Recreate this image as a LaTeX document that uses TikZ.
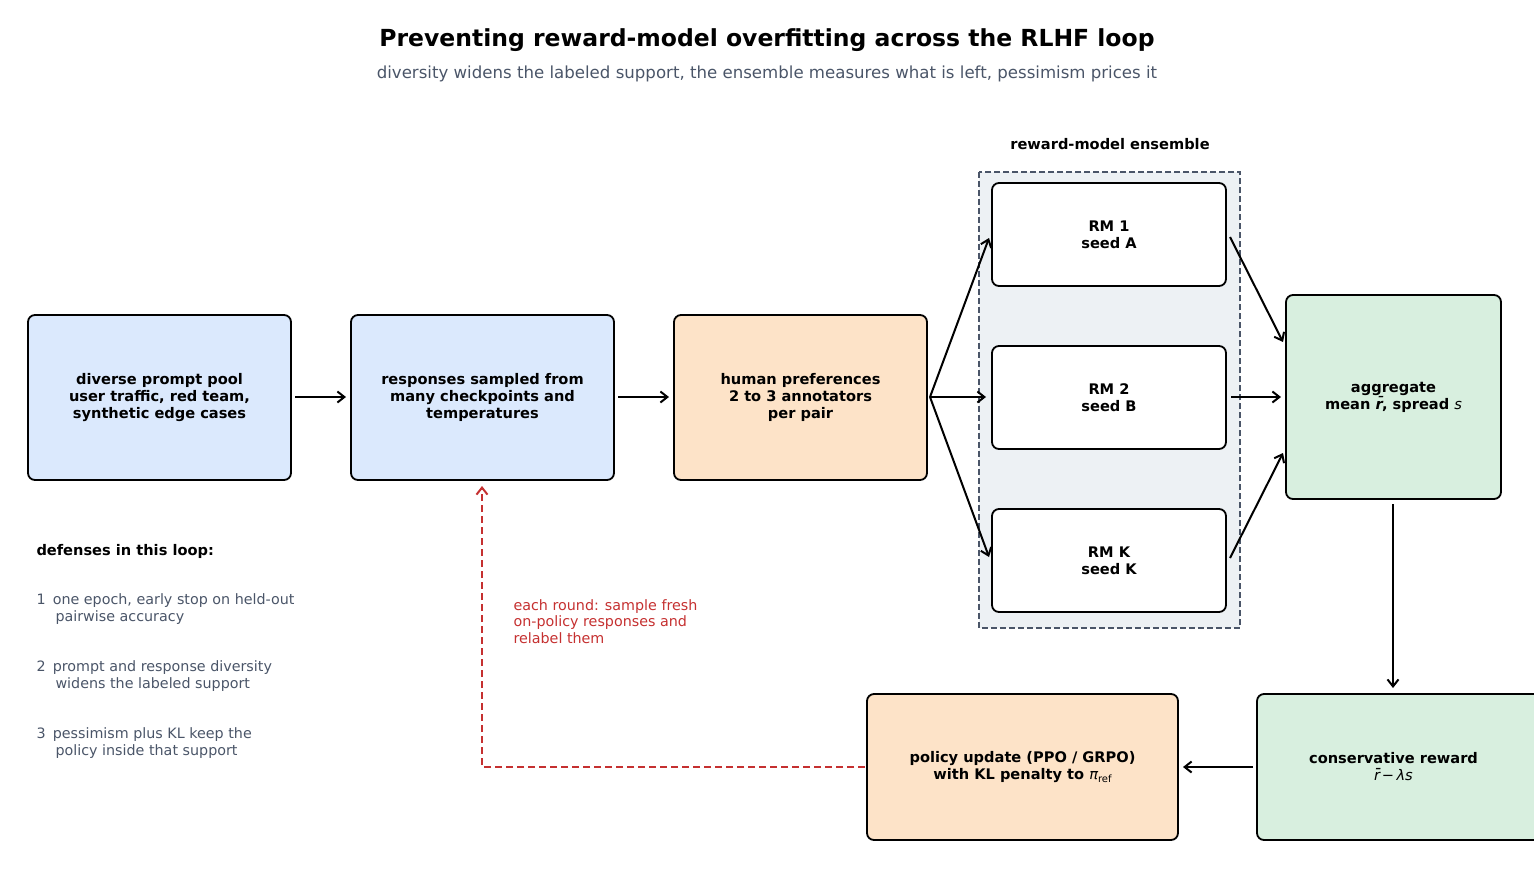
\documentclass[tikz,border=0pt]{standalone}
\usepackage{fontspec}
\setmainfont{DejaVu Sans}
\usetikzlibrary{arrows.meta}
\definecolor{bluef}{HTML}{DBE9FD}
\definecolor{orf}{HTML}{FDE3C8}
\definecolor{grf}{HTML}{D8EFDF}
\definecolor{ensf}{HTML}{EDF1F4}
\definecolor{slate}{HTML}{4A5568}
\definecolor{redl}{HTML}{C53030}
\newcommand{\rbar}{{\itshape r\kern-0.05em\llap{\raisebox{0.12em}{\textbf{\char"0304}}}}}
\newcommand{\rsub}[1]{\raisebox{-0.25em}{\fontsize{10}{10}\selectfont #1}}
\tikzset{
 box/.style={draw=black,line width=1.8pt,rounded corners=7pt,align=center,font=\fontsize{14.6}{17}\selectfont\bfseries},
 arr2/.style={-{Straight Barb[length=7pt,width=11pt]},line width=2pt},
 note/.style={anchor=north west,align=left,text=slate,font=\fontsize{14.3}{17}\selectfont},
}
\begin{document}
\begin{tikzpicture}[x=1pt,y=-1pt]
\useasboundingbox (0,0) rectangle (1534,873);
\clip (0,0) rectangle (1534,873);
\node[font=\fontsize{23.5}{27}\selectfont\bfseries] (title) at (767,40) {Preventing reward-model overfitting across the RLHF loop};
\node[text=slate,font=\fontsize{16.6}{20}\selectfont] (sub) at (767,74) {diversity widens the labeled support, the ensemble measures what is left, pessimism prices it};
\node[font=\fontsize{14.6}{17}\selectfont\bfseries] (enslab) at (1110,144) {reward-model ensemble};
\draw[draw=slate,fill=ensf,dash pattern=on 6pt off 3pt,line width=1.4pt] (979,172) rectangle (1240,628);
\path[box,fill=bluef] (28,315) rectangle (291,480);
\node[box,draw=none] (A) at (159.5,397.5) {diverse prompt pool\\user traffic, red team,\\synthetic edge cases};
\path[box,fill=bluef] (351,315) rectangle (614,480);
\node[box,draw=none] (B) at (482.5,397.5) {responses sampled from\\many checkpoints and\\temperatures};
\path[box,fill=orf] (674,315) rectangle (927,480);
\node[box,draw=none] (C) at (800.5,397.5) {human preferences\\2 to 3 annotators\\per pair};
\path[box,fill=white] (992,183) rectangle (1226,286);
\node[box,draw=none] (R1) at (1109,234.5) {RM 1\\seed A};
\path[box,fill=white] (992,346) rectangle (1226,449);
\node[box,draw=none] (R2) at (1109,397.5) {RM 2\\seed B};
\path[box,fill=white] (992,509) rectangle (1226,612);
\node[box,draw=none] (RK) at (1109,560.5) {RM K\\seed K};
\path[box,fill=grf] (1286,295) rectangle (1501,499);
\node[box,draw=none] (G) at (1393.5,397) {aggregate\\mean \rbar, spread {\mdseries\itshape s}};
\path[box,fill=grf] (1257,694) rectangle (1545,840);
\node[box,draw=none] (CR) at (1393.5,767) {conservative reward\\{\mdseries\rbar\,−\,{\itshape λs}}};
\path[box,fill=orf] (867,694) rectangle (1178,840);
\node[box,draw=none] (P) at (1022.5,767) {policy update (PPO / GRPO)\\with KL penalty to {\mdseries\itshape π}{\mdseries\rsub{ref}}};
\coordinate (a1) at (295,397); \coordinate (b0) at (346,397);
\coordinate (b1) at (618,397); \coordinate (c0) at (669,397);
\coordinate (c1) at (930,397);
\draw[arr2] (a1) -- (b0);
\draw[arr2] (b1) -- (c0);
\draw[arr2] (c1) -- (989,238);
\draw[arr2] (c1) -- (986,397);
\draw[arr2] (c1) -- (989,557);
\draw[arr2] (1230,237) -- (1283,342);
\draw[arr2] (1231,397) -- (1281,397);
\draw[arr2] (1230,558) -- (1283,453);
\draw[arr2] (1393,504) -- (1393,688);
\draw[arr2] (1253,767) -- (1183,767);
\coordinate (pl) at (865,767); \coordinate (bend) at (482,767); \coordinate (bb) at (482,486);
\draw[arr2,draw=redl,dash pattern=on 7pt off 4pt] (pl) -- (bend) -- (bb);
\node[anchor=north west,align=left,text=redl,font=\fontsize{14.3}{16.5}\selectfont] (rl) at (510,596) {each round: sample fresh\\on-policy responses and\\relabel them};
\node[anchor=north west,font=\fontsize{14.6}{17}\selectfont\bfseries] (dh) at (33,541) {defenses in this loop:};
\node[note] (n1) at (33,590) {1\enspace one epoch, early stop on held-out\\\hspace*{19pt}pairwise accuracy};
\node[note] (n2) at (33,657) {2\enspace prompt and response diversity\\\hspace*{19pt}widens the labeled support};
\node[note] (n3) at (33,724) {3\enspace pessimism plus KL keep the\\\hspace*{19pt}policy inside that support};
\end{tikzpicture}
\end{document}
